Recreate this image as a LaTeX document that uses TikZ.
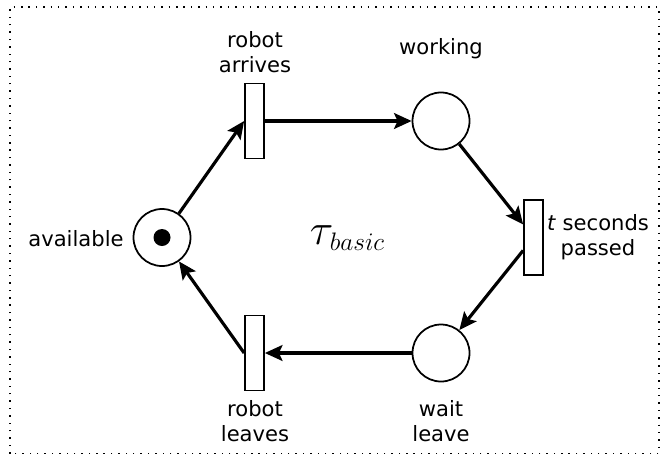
\documentclass[tikz,border=0pt]{standalone}
\usepackage{amsmath}
\usepackage{fontspec}
\setmainfont{DejaVu Sans}
\usetikzlibrary{arrows.meta}

\tikzset{
    place/.style={circle,draw,line width=1pt,minimum size=1.14cm,inner sep=0pt},
    transition/.style={rectangle,draw,line width=1pt,minimum width=0.38cm,minimum height=1.5cm,inner sep=0pt},
    arc/.style={line width=1.8pt,-{Stealth[length=10pt,width=9pt,inset=2pt]}},
    lbl/.style={align=center,inner sep=0pt,font=\fontsize{12}{14}\selectfont}
}

\begin{document}
\begin{tikzpicture}
                \useasboundingbox (0,0) rectangle (13.26,9.14);
                \draw[line width=0.8pt,dash pattern=on 0.8pt off 3.4pt] (0.2,0.07) rectangle (13.18,9.0);
                % places
                \node[place] (available) at (3.24,4.39) {};
                \node[place] (working) at (8.82,6.72) {};
                \node[place] (waitleave) at (8.82,2.08) {};
                \fill (available) circle (0.17cm);
                % transitions
                \node[transition] (arrives) at (5.09,6.72) {};
                \node[transition] (passed) at (10.67,4.39) {};
                \node[transition] (leaves) at (5.09,2.08) {};
                % labels
                \node[lbl] (availabletext) at (1.52,4.36) {available};
                \node[lbl] (workingtext) at (8.82,8.16) {working};
                \node[lbl] (waitleavetext) at (8.82,0.72) {wait\\leave};
                \node[lbl] (arrivestext) at (5.10,8.10) {robot\\arrives};
                \node[lbl] (passedtext) at (11.96,4.40) {\textit{t} seconds\\passed};
                \node[lbl] (leavestext) at (5.10,0.72) {robot\\leaves};
                \node[inner sep=0pt] (net) at (6.94,4.38) {\fontsize{31}{34}\selectfont$\tau$\kern-2pt\raisebox{-3pt}{\fontsize{14}{16}\selectfont$basic$}};
                % arcs
                \draw[arc] (available) -- (arrives.west);
                \draw[arc] (arrives) -- (working);
                \draw[arc] (working) -- (passed);
                \draw[arc] (passed) -- (waitleave);
                \draw[arc] (waitleave) -- (leaves);
                \draw[arc] (leaves.west) -- (available);
            \end{tikzpicture}
\end{document}
